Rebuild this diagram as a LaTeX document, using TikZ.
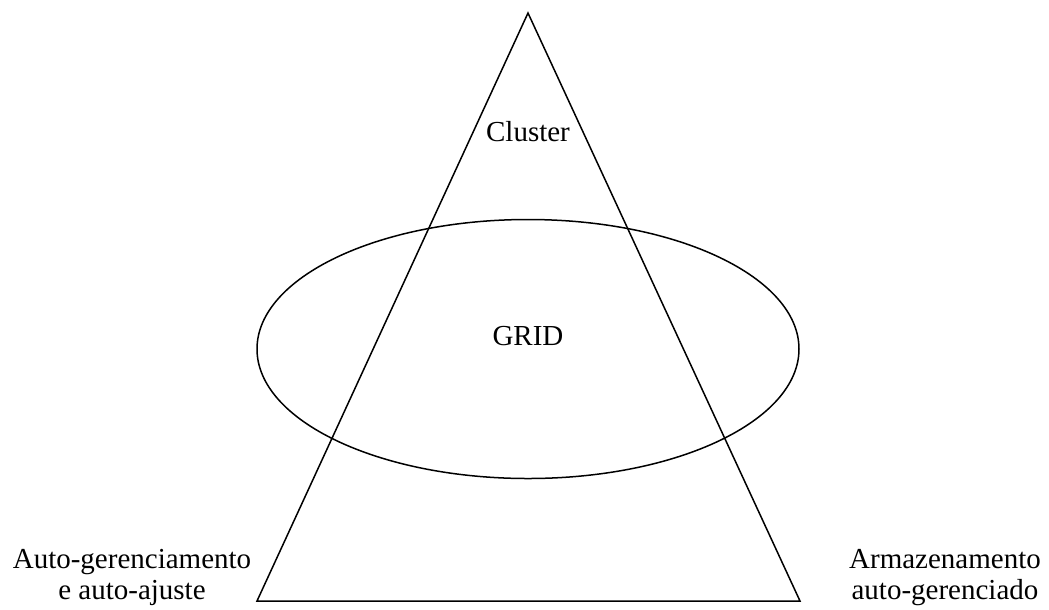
\documentclass[tikz,border=0pt]{standalone}
\usepackage{fontspec}
\setmainfont{Liberation Serif}
\usetikzlibrary{positioning}

\begin{document}
\begin{tikzpicture}[
    x=0.4pt, y=-0.4pt,
    outline/.style={draw=black, line width=0.6pt},
    caption/.style={
      anchor=base,
      align=center,
      inner sep=0pt,
      font=\fontsize{11.6}{12.4}\selectfont
    }
  ]
    \useasboundingbox (0,0) rectangle (1049,609);

    \coordinate (apex) at (528,13);
    \coordinate (baseL) at (257,601);
    \coordinate (baseR) at (800,601);

    \draw[outline] (apex) -- (baseL) -- (baseR) -- cycle;
    \draw[outline] (528,349) ellipse [x radius=271, y radius=129.5];

    \node[caption] (cluster) at (528,141) {Cluster};
    \node[caption] (grid) at (528,345) {GRID};
    % two-line captions: base is the last line
    \node[caption] (selfmgmt) at (132,599) {Auto-gerenciamento\\e auto-ajuste};
    \node[caption] (storage) at (945,599) {Armazenamento\\auto-gerenciado};
  \end{tikzpicture}
\end{document}
